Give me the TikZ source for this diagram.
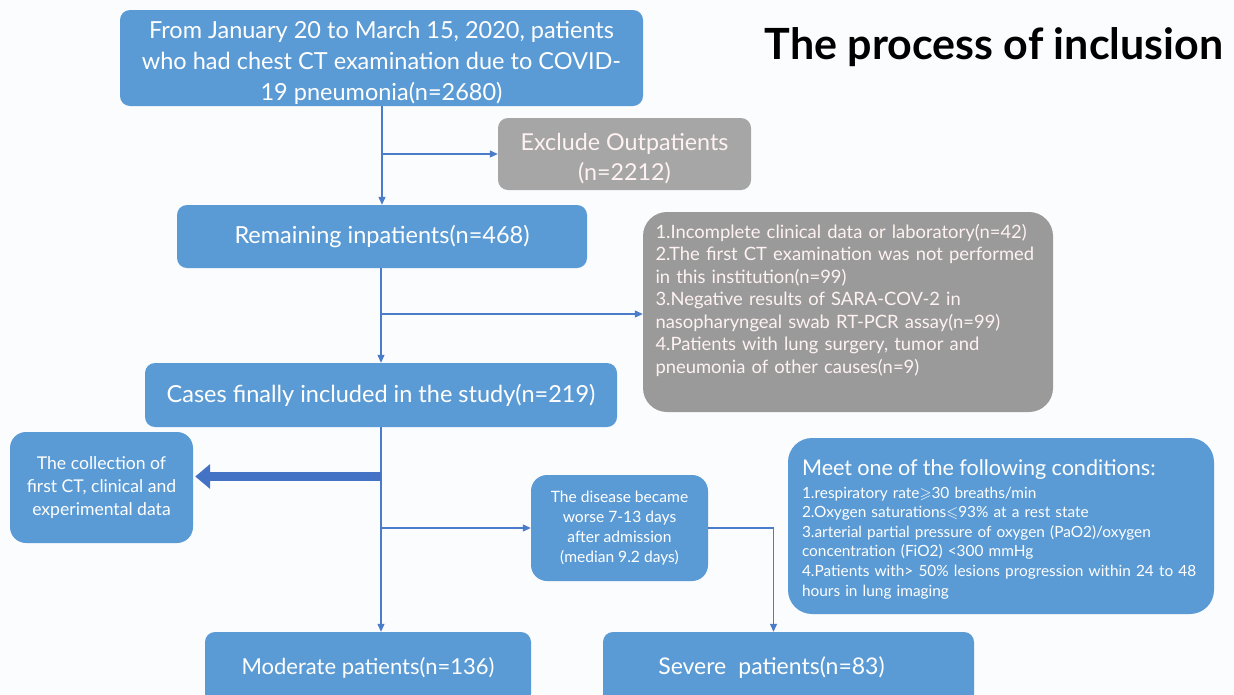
\documentclass[tikz,border=0pt]{standalone}
\usepackage{amssymb}
\usepackage{fontspec}
\setmainfont{Lato}
\usetikzlibrary{arrows.meta,calc}

\definecolor{boxblue}{HTML}{5B9BD5}
\definecolor{boxgrey}{HTML}{A6A6A6}
\definecolor{critgrey}{HTML}{9A9A9A}
\definecolor{lineblue}{HTML}{4A7CC9}
\definecolor{thickblue}{HTML}{4472C4}
\definecolor{paper}{HTML}{FBFCFE}

\newcommand{\fsz}[2]{\fontsize{#1}{#2}\selectfont}

\tikzset{
  box/.style={rounded corners=10pt, fill=boxblue, text=white, align=center, inner sep=0pt},
  greybox/.style={box, fill=boxgrey, text=white!95!red},
  critbox/.style={box, fill=critgrey, text=white!95!red, rounded corners=24pt, align=left},
  flow/.style={draw=lineblue, line width=1.1pt, -{Triangle[width=7pt,length=8pt]}},
  bigflow/.style={draw=thickblue, line width=9pt, -{Triangle[width=24pt,length=15pt]}}
}

\begin{document}
\begin{tikzpicture}[x=1pt,y=-1pt]
  % page and margins
  \fill[paper] (0,0) rectangle (1234,694);
  \useasboundingbox (0,0) rectangle (1234,694);

  % title
  \node[font=\bfseries\fsz{43}{48}] (title) at (994,47) {The process of inclusion};

  % main column
  \node[box, minimum width=523, minimum height=96, font=\fsz{23.5}{31}] (top) at (381.5,58)
    {\rule{0pt}{28pt}From January 20 to March 15, 2020, patients\\who had chest CT examination due to COVID-\\19 pneumonia(n=2680)};
  \node[box, minimum width=410, minimum height=63, font=\fsz{23.5}{28}] (rem) at (382,236.5)
    {Remaining inpatients(n=468)};
  \node[box, minimum width=472, minimum height=64, font=\fsz{23.5}{28}] (cases) at (381,395)
    {Cases finally included in the study(n=219)};
  \node[box, minimum width=326, minimum height=72, font=\fsz{22}{28}] (mod) at (368,668)
    {\raisebox{4pt}{Moderate patients(n=136)}};
  \node[box, minimum width=371, minimum height=72, font=\fsz{23}{28}] (sev) at (788.5,668)
    {\raisebox{4pt}{Severe\hspace{12pt}patients(n=83)}\rule{34pt}{0pt}};

  % exclusions
  \node[greybox, minimum width=253, minimum height=72, font=\fsz{23.3}{30}] (excl) at (624.5,154)
    {\rule{0pt}{25.5pt}Exclude Outpatients\\(n=2212)};
  \node[critbox, minimum width=410, minimum height=200, text width=385, font=\fsz{18.4}{22.5}] (crit) at (848,312)
    {1.Incomplete clinical data or laboratory(n=42)\\
     2.The first CT examination was not performed\\
     in this institution(n=99)\\
     3.Negative results of SARA-COV-2 in\\
     nasopharyngeal swab RT-PCR assay(n=99)\\
     4.Patients with lung surgery, tumor and\\
     pneumonia of other causes(n=9)\\[-2pt]\strut};

  % side boxes
  \node[box, minimum width=183, minimum height=111, rounded corners=16pt, font=\fsz{17.6}{23}] (coll) at (101.5,487.5)
    {The collection of\\first CT, clinical and\\experimental data};
  \node[box, minimum width=177, minimum height=106, rounded corners=16pt, font=\fsz{15.6}{20}] (dis) at (619.5,528)
    {The disease became\\worse 7-13 days\\after admission\\(median 9.2 days)};
  \node[box, minimum width=426, minimum height=176, rounded corners=24pt, align=left, text width=398,
        font=\fsz{15.4}{19.6}] (meet) at (1001,526)
    {{\fsz{21.6}{19.6}\rule{0pt}{22pt}Meet one of the following conditions:}\\[3.5pt]
     1.respiratory rate$\geqslant$30 breaths/min\\
     2.Oxygen saturations$\leqslant$93\% at a rest state\\
     3.arterial partial pressure of oxygen (PaO2)/oxygen\\
     concentration (FiO2) <300 mmHg\\
     4.Patients with> 50\% lesions progression within 24 to 48\\
     hours in lung imaging};

  % connectors
  \draw[flow] (top.south -| rem.north) -- (rem.north);
  \draw[flow] (excl.west -| rem.north) -- (excl.west);
  \draw[flow] (rem.south -| cases.north) -- (cases.north);
  \draw[flow] ([yshift=-2pt]crit.west -| cases.north) -- ([yshift=-2pt]crit.west);
  \draw[flow] (cases.south) -- (cases.south |- mod.north);
  \draw[flow] (dis.west -| cases.south) -- (dis.west);
  \draw[flow] (dis.east) -| ([xshift=-15pt]sev.north);
  \draw[bigflow] ([yshift=11pt]coll.east -| cases.south) -- ([yshift=11pt,xshift=2pt]coll.east);
\end{tikzpicture}
\end{document}
